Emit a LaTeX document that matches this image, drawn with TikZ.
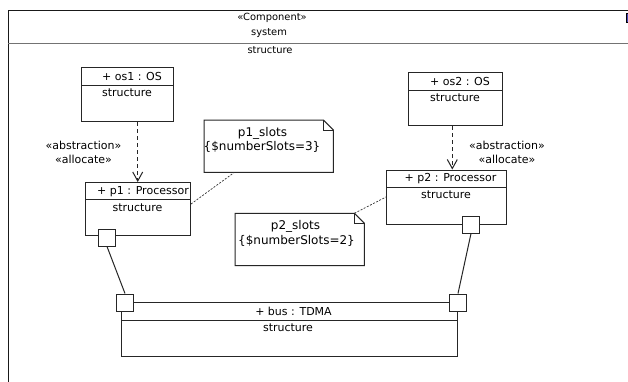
\documentclass[tikz,border=0pt]{standalone}
\usepackage{fontspec}
\setmainfont{DejaVu Sans}
\usetikzlibrary{arrows.meta,calc}
\begin{document}
\begin{tikzpicture}[x=1pt,y=-1pt,
  lbl/.style={inner sep=0pt, font=\fontsize{11}{13}\selectfont, text=black},
  hdr/.style={inner sep=0pt, font=\fontsize{9.9}{11}\selectfont, text=black},
  notetxt/.style={inner sep=0pt, font=\fontsize{12}{14}\selectfont, text=black},
  part/.style={draw=black!85, line width=1pt, fill=white, inner sep=0pt, anchor=north west},
  portbox/.style={draw=black!85, line width=1pt, fill=white, inner sep=0pt, minimum size=17pt, anchor=north west},
  sepline/.style={draw=black!85, line width=1pt},
  dep/.style={draw=black!85, line width=1pt, dash pattern=on 4pt off 3pt, -{Straight Barb[length=9pt,width=10pt]}},
  notelink/.style={draw=black!80, line width=0.7pt, dash pattern=on 2pt off 1.5pt},
  conn/.style={draw=black!85, line width=1pt},
  notebox/.style={inner sep=0pt, anchor=north west}
]
\useasboundingbox (0,0) rectangle (628,381);
\clip (0,0) rectangle (628,381);
\fill[white] (0,0) rectangle (628,381);

% outer component frame
\node[draw=black!90, line width=1pt, inner sep=0pt, minimum width=700pt, minimum height=420pt, anchor=north west] (sys) at (8,9.5) {};
\draw[draw=black!55, line width=1.3pt] (sys.west |- 0,43.5) -- (700,43.5);
\node[hdr] (systereo) at (272,17.5) {«Component»};
\node[hdr] (sysname) at (269,33) {system};
\node[hdr] (sysstruct) at (270,50) {structure};
\node[draw=black, fill=blue!45!gray, line width=0.8pt, minimum width=8pt, minimum height=9pt, inner sep=0pt, anchor=north west] (icon) at (626,13) {};

% os1
\node[part, minimum width=92pt, minimum height=54pt] (os1) at (81,67) {};
\draw[sepline] (os1.west |- 0,85) -- (os1.east |- 0,85);
\node[lbl] (os1t) at (132,76) {+ os1 : OS};
\node[lbl] (os1s) at (127,93) {structure};

% p1
\node[part, minimum width=105pt, minimum height=53pt] (p1) at (85,182) {};
\draw[sepline] (p1.west |- 0,199.5) -- (p1.east |- 0,199.5);
\node[lbl] (p1t) at (143,191.5) {+ p1 : Processor};
\node[lbl] (p1s) at (137.5,208) {structure};
\node[portbox] (p1port) at (98,228.5) {};

% os2
\node[part, minimum width=94pt, minimum height=53pt] (os2) at (408,72) {};
\draw[sepline] (os2.west |- 0,90) -- (os2.east |- 0,90);
\node[lbl] (os2t) at (460,81) {+ os2 : OS};
\node[lbl] (os2s) at (455,97.5) {structure};

% p2
\node[part, minimum width=120pt, minimum height=54pt] (p2) at (386,169.5) {};
\draw[sepline] (p2.west |- 0,187.5) -- (p2.east |- 0,187.5);
\node[lbl] (p2t) at (450.5,178.5) {+ p2 : Processor};
\node[lbl] (p2s) at (446,195) {structure};
\node[portbox] (p2port) at (462,215.5) {};

% bus
\node[part, minimum width=336pt, minimum height=54pt] (bus) at (121,302) {};
\draw[sepline] (bus.west |- 0,320) -- (bus.east |- 0,320);
\node[lbl] (bust) at (293.5,311) {+ bus : TDMA};
\node[lbl] (buss) at (288,328) {structure};
\node[portbox] (busL) at (116,293.5) {};
\node[portbox] (busR) at (449,293.5) {};

% notes
\node[notebox, minimum width=129pt, minimum height=52pt] (n1) at (204,120) {};
\draw[draw=black!85, line width=1pt, fill=white]
  (n1.north west) -- ($(n1.north east)+(-10pt,0)$) -- ($(n1.north east)+(0,-10pt)$)
  -- (n1.south east) -- (n1.south west) -- cycle;
\draw[draw=black!85, line width=0.8pt]
  ($(n1.north east)+(-10pt,0)$) -- ($(n1.north east)+(-10pt,-10pt)$) -- ($(n1.north east)+(0,-10pt)$);
\node[notetxt] (n1a) at (262.5,133.5) {p1\_slots};
\node[notetxt] (n1b) at (262,147) {\{\$numberSlots=3\}};

\node[notebox, minimum width=129pt, minimum height=52pt] (n2) at (235,213.3) {};
\draw[draw=black!85, line width=1pt, fill=white]
  (n2.north west) -- ($(n2.north east)+(-10pt,0)$) -- ($(n2.north east)+(0,-10pt)$)
  -- (n2.south east) -- (n2.south west) -- cycle;
\draw[draw=black!85, line width=0.8pt]
  ($(n2.north east)+(-10pt,0)$) -- ($(n2.north east)+(-10pt,-10pt)$) -- ($(n2.north east)+(0,-10pt)$);
\node[notetxt] (n2a) at (295.5,226) {p2\_slots};
\node[notetxt] (n2b) at (296.5,240.5) {\{\$numberSlots=2\}};

% dependencies
\draw[dep] (os1.south -| 137.7,0) -- (p1.north -| 137.7,0);
\draw[dep] (os2.south -| 452.3,0) -- (p2.north -| 452.3,0);
\node[lbl] (d1a) at (83.5,145) {«abstraction»};
\node[lbl] (d1b) at (83.5,159) {«allocate»};
\node[lbl] (d2a) at (507,145) {«abstraction»};
\node[lbl] (d2b) at (507,159) {«allocate»};

% note links
\draw[notelink] (p1.east |- 0,204) -- (n1.south west -| 234.3,0);
\draw[notelink] ($(n2.north east)+(-10pt,0)$) -- (p2.west |- 0,197);

% port connectors
\draw[conn] (p1port.south) -- (busL.north);
\draw[conn] (p2port.south) -- (busR.north);
\end{tikzpicture}
\end{document}
